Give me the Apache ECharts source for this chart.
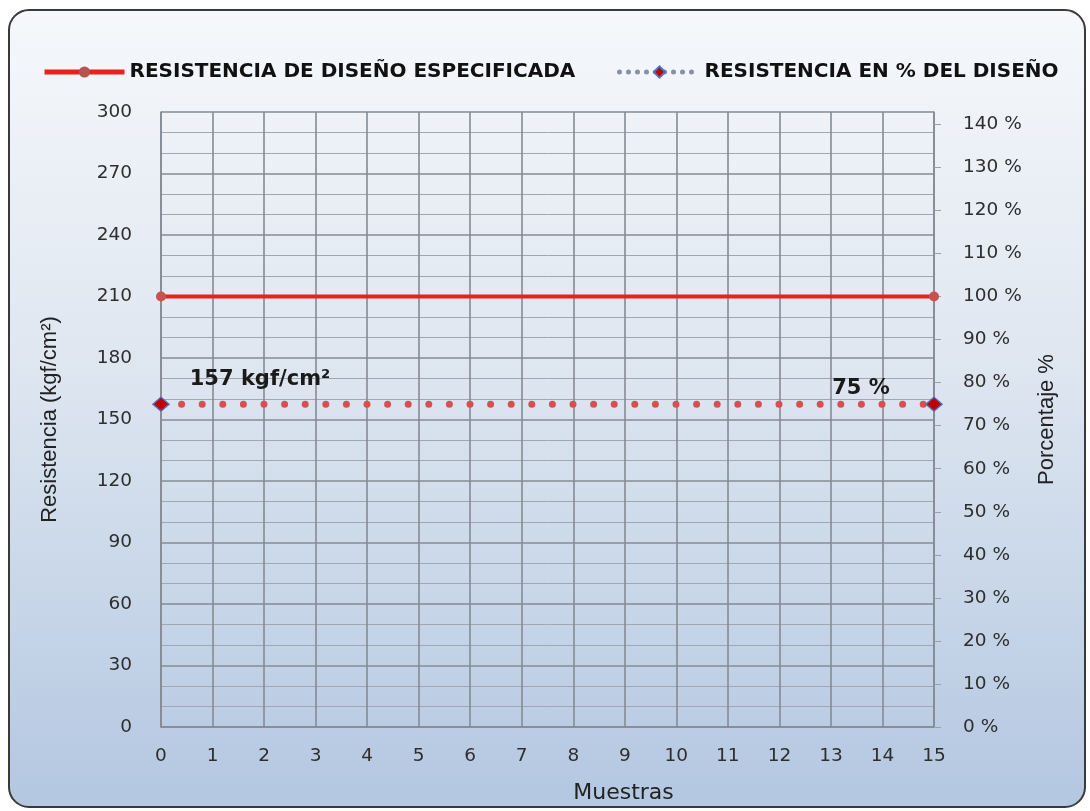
<!DOCTYPE html>
<html>
<head>
<meta charset="utf-8">
<script src="https://cdn.jsdelivr.net/npm/echarts@6/dist/echarts.min.js"></script>
<style>
  html, body { margin: 0; padding: 0; background: #ffffff; }
  #chart { width: 1090px; height: 811px; }
</style>
</head>
<body>
<div id="chart"></div>
<script>
// Sample numbers along the x axis (first and last sample)
const muestras = [0, 15];
// Specified design strength, kgf/cm²
const resistenciaDiseno = [210, 210];
// Strength as a percentage of the design value
const porcentajeDiseno = [75, 75];
// Value labels shown at the two ends of the percentage line
const etiquetasPorcentaje = ['157 kgf/cm²', '75 %'];
// Axis tick values
const ticksResistencia = [0, 30, 60, 90, 120, 150, 180, 210, 240, 270, 300];
const ticksPorcentaje = [0, 10, 20, 30, 40, 50, 60, 70, 80, 90, 100, 110, 120, 130, 140];
const ticksMuestras = [0, 1, 2, 3, 4, 5, 6, 7, 8, 9, 10, 11, 12, 13, 14, 15];

const nombreDiseno = 'RESISTENCIA DE DISEÑO ESPECIFICADA';
const nombrePorcentaje = 'RESISTENCIA EN % DEL DISEÑO';

const chart = echarts.init(document.getElementById('chart'), null, { renderer: 'canvas' });

const tickFont = { fontFamily: 'DejaVu Sans', fontSize: 18.5, color: '#2e2e2e' };
const majorGrid = { color: '#858b93', width: 1.6 };
const minorGrid = { color: '#a0a7b0', width: 1 };
const titleFont = { fontFamily: 'Liberation Sans', fontSize: 22, color: '#222222' };

// right axis spans the same range as the left one, expressed in % of design strength
const maxResistencia = 300;
const maxPorcentaje = maxResistencia / resistenciaDiseno[0] * 100;

const option = {
  animation: false,
  backgroundColor: 'transparent',
  graphic: [{
    type: 'rect',
    z: -10,
    shape: { x: 9, y: 10, width: 1076, height: 797, r: 20 },
    style: {
      fill: new echarts.graphic.LinearGradient(0, 0, 0, 1, [
        { offset: 0, color: '#f6f8fb' },
        { offset: 0.45, color: '#dee6f0' },
        { offset: 1, color: '#b3c7e1' }
      ]),
      stroke: '#3a3a3a',
      lineWidth: 2
    }
  }],
  legend: [{
    left: 37, top: 57,
    itemWidth: 80, itemHeight: 14, itemGap: 0,
    textStyle: { fontFamily: 'DejaVu Sans', fontWeight: 'bold', fontSize: 20, color: '#111111' },
    data: [{
      name: nombreDiseno,
      lineStyle: { color: '#e8211d', width: 5 },
      itemStyle: { color: '#b85450' }
    }]
  }, {
    left: 612, top: 57,
    itemWidth: 80, itemHeight: 14, itemGap: 0,
    textStyle: { fontFamily: 'DejaVu Sans', fontWeight: 'bold', fontSize: 20, color: '#111111' },
    data: [{
      name: nombrePorcentaje,
      lineStyle: { color: '#8391aa', type: [0, 9], width: 5, cap: 'round' }
    }]
  }],
  grid: { left: 161, right: 156, top: 112, bottom: 84, containLabel: false },
  xAxis: {
    type: 'value',
    min: 0, max: 15, interval: 1,
    name: 'Muestras',
    nameLocation: 'middle',
    nameGap: 55,
    nameTextStyle: { fontFamily: 'DejaVu Sans', fontSize: 22, color: '#222222', padding: [0, 0, 0, 152] },
    axisLine: { show: true, lineStyle: majorGrid },
    axisTick: { show: false },
    axisLabel: { ...tickFont, margin: 20, customValues: ticksMuestras },
    splitLine: { show: true, lineStyle: majorGrid }
  },
  yAxis: [{
    type: 'value',
    min: 0, max: maxResistencia, interval: 30,
    name: 'Resistencia (kgf/cm²)',
    nameLocation: 'middle',
    nameRotate: 90,
    nameGap: 100,
    nameTextStyle: titleFont,
    axisLine: { show: true, lineStyle: majorGrid },
    axisTick: { show: false },
    axisLabel: { ...tickFont, margin: 29, customValues: ticksResistencia },
    splitLine: { show: true, lineStyle: majorGrid },
    minorTick: { show: false, splitNumber: 3 },
    minorSplitLine: { show: true, lineStyle: minorGrid }
  }, {
    type: 'value',
    position: 'right',
    min: 0, max: maxPorcentaje, interval: 10,
    name: 'Porcentaje %',
    nameLocation: 'middle',
    nameRotate: 90,
    nameGap: 102,
    nameTextStyle: titleFont,
    axisLine: { show: true, lineStyle: majorGrid },
    axisTick: { show: true, length: 7, inside: false, lineStyle: { color: '#9aa0a8', width: 1 }, customValues: ticksPorcentaje },
    axisLabel: { ...tickFont, margin: 29, customValues: ticksPorcentaje, formatter: v => Math.round(v) + ' %' },
    splitLine: { show: false }
  }],
  series: [{
    name: nombreDiseno,
    type: 'line',
    yAxisIndex: 0,
    data: muestras.map((x, i) => [x, resistenciaDiseno[i]]),
    symbol: 'circle',
    symbolSize: 10,
    itemStyle: { color: '#c9524f' },
    lineStyle: { color: '#e8211d', width: 4 },
    z: 3
  }, {
    name: nombrePorcentaje,
    type: 'line',
    yAxisIndex: 1,
    data: muestras.map((x, i) => ({
      value: [x, porcentajeDiseno[i]],
      label: {
        show: true,
        formatter: etiquetasPorcentaje[i],
        position: 'top',
        offset: i === 0 ? [99, -1] : [-73, 8]
      }
    })),
    symbol: 'diamond',
    symbolSize: [16, 14],
    itemStyle: { color: '#c00000', borderColor: '#4f6fbf', borderWidth: 1.5 },
    lineStyle: { color: '#d65050', width: 7, type: [0, 20.6], cap: 'round' },
    label: { fontFamily: 'DejaVu Sans', fontWeight: 'bold', fontSize: 21, color: '#1a1a1a' },
    z: 4
  }]
};

chart.setOption(option);
</script>
</body>
</html>
